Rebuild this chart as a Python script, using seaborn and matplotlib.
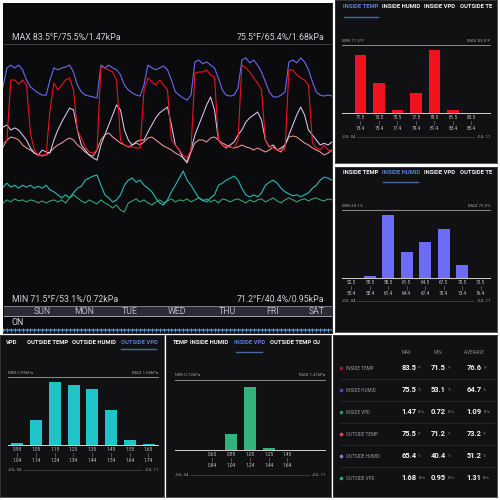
#!/usr/bin/env python3
"""
Grow-tent sensor dashboard: weekly trace, histograms and summary table
"""
import matplotlib
matplotlib.use("Agg")
import seaborn as sns
import matplotlib.pyplot as plt

# ---------------------------------------------------------------- data
hours = list(range(0, 169, 2))  # Jul 04 00:00 -> Jul 11 00:00, 2 h steps

inside_temp = [
    73.7, 74.0, 80.0, 80.0, 79.6, 80.0, 79.5, 74.7, 73.0, 72.5, 72.5, 72.5,
    77.0, 79.7, 79.0, 79.5, 80.0, 80.2, 79.0, 75.0, 74.2, 73.3, 72.8, 72.7,
    73.0, 81.3, 81.2, 81.0, 80.8, 80.0, 74.0, 73.5, 73.3, 73.3, 73.2, 73.2,
    79.0, 80.2, 79.8, 79.5, 80.0, 79.5, 79.0, 74.0, 73.5, 73.0, 72.5, 72.2,
    73.0, 80.7, 80.8, 80.8, 81.0, 80.5, 80.3, 74.0, 73.5, 73.3, 73.3, 73.2,
    74.0, 81.5, 81.2, 80.8, 80.2, 79.7, 79.0, 74.0, 73.4, 73.2, 73.0, 73.0,
    73.0, 81.0, 81.0, 80.5, 80.2, 80.0, 79.5, 73.7, 73.2, 73.0, 73.5, 73.0,
    72.8]

inside_humid = [
    62.7, 68.7, 69.6, 68.7, 69.6, 68.1, 64.9, 62.7, 61.7, 60.8, 60.1, 60.1,
    64.9, 68.7, 68.1, 68.7, 69.0, 69.6, 67.4, 63.3, 61.1, 60.1, 59.8, 59.5,
    59.2, 69.6, 68.7, 69.6, 68.7, 68.1, 66.5, 63.3, 61.7, 60.8, 60.1, 59.8,
    63.3, 69.6, 68.7, 68.1, 68.7, 69.3, 68.1, 64.9, 61.1, 60.1, 59.2, 58.5,
    60.1, 70.6, 71.2, 70.0, 70.6, 69.6, 68.7, 65.5, 61.7, 60.1, 59.8, 60.1,
    62.4, 71.2, 71.9, 70.3, 71.2, 69.6, 67.4, 64.3, 61.1, 59.5, 59.5, 60.1,
    61.1, 70.6, 71.2, 70.3, 71.9, 70.6, 68.1, 64.3, 61.1, 60.1, 59.8, 60.1,
    59.8]

inside_vpd = [
    1.03, 1.09, 1.05, 1.11, 1.07, 1.09, 1.05, 1.09, 1.07, 1.03, 1.07, 1.03,
    1.07, 1.09, 1.05, 1.09, 1.03, 1.13, 1.19, 1.13, 1.07, 1.03, 1.09, 1.05,
    1.01, 1.09, 1.03, 0.99, 0.93, 0.99, 0.89, 0.85, 1.03, 1.07, 1.11, 1.05,
    1.09, 1.03, 0.99, 1.05, 1.09, 1.03, 1.07, 1.11, 1.05, 1.09, 1.07, 1.11,
    1.05, 1.09, 1.13, 1.07, 1.11, 1.05, 1.09, 1.03, 1.11, 1.09, 1.05, 1.09,
    1.11, 1.07, 1.03, 1.09, 1.05, 1.09, 1.11, 1.05, 1.09, 1.13, 1.07, 1.03,
    1.09, 1.13, 1.09, 1.05, 1.09, 1.11, 1.07, 1.11, 1.13, 1.09, 1.07, 1.11,
    1.09]

outside_temp = [
    73.3, 74.0, 74.3, 74.2, 74.0, 73.5, 73.2, 73.0, 72.7, 72.5, 72.4, 72.5,
    72.8, 73.2, 73.5, 73.7, 74.0, 74.2, 74.0, 73.5, 73.2, 72.8, 72.5, 72.4,
    73.0, 74.0, 74.5, 74.7, 74.3, 74.0, 73.7, 73.5, 73.3, 73.5, 73.7, 73.5,
    73.8, 74.2, 74.3, 74.0, 73.7, 73.4, 73.2, 73.0, 72.7, 72.5, 72.2, 71.7,
    72.8, 73.7, 74.0, 74.0, 73.8, 74.2, 74.3, 74.0, 73.7, 73.5, 73.3, 73.2,
    73.3, 73.5, 73.3, 73.2, 73.0, 73.2, 73.0, 72.8, 73.0, 73.3, 73.0, 72.8,
    73.5, 74.3, 74.4, 74.3, 74.0, 73.7, 73.5, 73.2, 73.0, 72.8, 72.5, 72.7,
    73.0]

outside_humid = [
    54.0, 54.8, 52.9, 53.7, 52.9, 51.0, 49.1, 46.1, 44.2, 43.4, 45.3, 44.6,
    44.2, 49.1, 52.9, 55.9, 58.6, 61.2, 60.5, 52.9, 47.2, 45.3, 43.4, 42.3,
    41.5, 47.2, 51.0, 54.8, 58.6, 62.4, 60.5, 52.9, 49.1, 47.2, 48.4, 49.1,
    49.1, 52.1, 54.8, 57.5, 59.4, 60.5, 61.6, 54.8, 47.2, 45.3, 42.3, 40.8,
    45.3, 51.0, 54.8, 58.6, 62.4, 65.4, 60.5, 49.1, 47.2, 46.1, 47.2, 48.4,
    51.0, 52.9, 55.9, 57.5, 58.6, 59.7, 56.7, 49.1, 46.5, 47.2, 45.3, 46.1,
    47.2, 51.0, 54.8, 58.6, 61.6, 58.6, 52.9, 51.0, 49.1, 47.2, 47.9, 47.2,
    48.4]

outside_vpd = [
    1.34, 1.42, 1.34, 1.38, 1.32, 1.38, 1.34, 1.38, 1.32, 1.36, 1.32, 1.38,
    1.29, 1.25, 1.19, 1.13, 1.19, 1.13, 1.23, 1.32, 1.36, 1.48, 1.52, 1.56,
    1.58, 1.38, 1.19, 1.13, 1.05, 1.09, 1.19, 1.38, 1.48, 1.52, 1.44, 1.48,
    1.38, 1.32, 1.25, 1.13, 1.03, 0.99, 1.09, 1.25, 1.38, 1.52, 1.66, 1.48,
    1.38, 1.25, 1.13, 1.09, 1.05, 1.13, 1.19, 1.38, 1.42, 1.48, 1.52, 1.56,
    1.48, 1.32, 1.19, 1.15, 1.19, 1.15, 1.23, 1.38, 1.44, 1.48, 1.42, 1.32,
    1.25, 1.21, 1.17, 1.19, 1.15, 1.19, 1.23, 1.32, 1.38, 1.48, 1.54, 1.52,
    1.48]

day_names = ["SUN", "MON", "TUE", "WED", "THU", "FRI", "SAT"]

# histograms: share of samples per bin (%)
temp_bins_lo = ["71.5", "73.5", "75.5", "77.5", "79.5", "81.5", "83.5"]
temp_bins_hi = ["73.4", "75.4", "77.4", "79.4", "81.4", "83.4", "85.4"]
temp_share = [32.6, 16.8, 1.8, 11.5, 35.4, 1.8, 0.0]

humid_bins_lo = ["52.5", "55.5", "58.5", "61.5", "64.5", "67.5", "70.5", "73.5"]
humid_bins_hi = ["55.4", "58.4", "61.4", "64.4", "67.4", "70.4", "73.4", "76.4"]
humid_share = [0.0, 1.1, 33.2, 13.7, 19.0, 26.0, 6.9, 0.0]

ovpd_bins_lo = ["0.95", "1.05", "1.15", "1.25", "1.35", "1.45", "1.55", "1.65"]
ovpd_bins_hi = ["1.04", "1.14", "1.24", "1.34", "1.44", "1.54", "1.64", "1.74"]
ovpd_share = [0.7, 10.1, 25.6, 24.5, 22.6, 14.1, 1.9, 0.5]

ivpd_bins_lo = ["0.65", "0.85", "1.05", "1.25", "1.45"]
ivpd_bins_hi = ["0.84", "1.04", "1.24", "1.44", "1.64"]
ivpd_share = [0.0, 19.5, 78.4, 2.1, 0.0]

# summary table
stat_names = ["INSIDE TEMP", "INSIDE HUMID", "INSIDE VPD",
              "OUTSIDE TEMP", "OUTSIDE HUMID", "OUTSIDE VPD"]
stat_max = ["83.5", "75.5", "1.47", "75.5", "65.4", "1.68"]
stat_min = ["71.5", "53.1", "0.72", "71.2", "40.4", "0.95"]
stat_avg = ["76.6", "64.7", "1.09", "73.2", "51.2", "1.31"]
stat_unit = ["°F", "%", "kPa", "°F", "%", "kPa"]

# ---------------------------------------------------------------- style
plt.rcParams["font.family"] = ["Roboto", "DejaVu Sans"]

C_IN_TEMP = "#e8141f"
C_IN_HUMID = "#6a68ee"
C_IN_VPD = "#3aa878"
C_OUT_TEMP = "#eb9a98"
C_OUT_HUMID = "#dcc6ee"
C_OUT_VPD = "#20bdb6"
DOTS = ["#b0102a", "#4a48c8", "#2a9a60", "#e04562", "#8a78c8", "#2aa878"]
TAB_BLUE = "#5a7fd8"
PANEL = "#111113"

W = H = 500
fig = plt.figure(figsize=(5, 5), dpi=100, facecolor="white")


def frac(x0, y0, x1, y1):
    return [x0 / W, 1 - y1 / H, (x1 - x0) / W, (y1 - y0) / H]


def panel(x0, y0, x1, y1, face=PANEL, edge="#3a3a3a"):
    """Axes whose data coordinates are image pixels (y down)."""
    ax = fig.add_axes(frac(x0, y0, x1, y1))
    ax.set_xlim(x0, x1)
    ax.set_ylim(y1, y0)
    ax.set_facecolor(face)
    ax.set_xticks([])
    ax.set_yticks([])
    for s in ax.spines.values():
        s.set_color(edge)
        s.set_linewidth(0.6)
    return ax


def overlay(x0, y0, x1, y1):
    ax = fig.add_axes(frac(x0, y0, x1, y1))
    ax.set_axis_off()
    return ax


def fit_ylim(ax, v_hi, px_hi, v_lo, px_lo, top_px, bot_px):
    per_px = (v_hi - v_lo) / (px_lo - px_hi)
    ax.set_ylim(v_lo - (bot_px - px_lo) * per_px, v_hi + (px_hi - top_px) * per_px)


# ---------------------------------------------------------------- main trace
main = panel(3, 3, 332, 333, face="#0b0b0d", edge="#0b0b0d")
txt = "#cfcfd4"
main.text(12, 38, "MAX 83.5°F/75.5%/1.47kPa", fontsize=6.3, color=txt, va="center")
main.text(324, 38, "75.5°F/65.4%/1.68kPa", fontsize=6.3, color=txt, va="center", ha="right")
main.plot([3, 332], [44, 44], color="#4a4a50", lw=0.6)
main.text(12, 300, "MIN 71.5°F/53.1%/0.72kPa", fontsize=6.3, color=txt, va="center")
main.text(324, 300, "71.2°F/40.4%/0.95kPa", fontsize=6.3, color=txt, va="center", ha="right")
main.fill_between([3, 332], 306, 316, color="#2b2b35", lw=0)
main.plot([3, 332], [306, 306], color="#8a8a95", lw=0.6)
main.plot([3, 332], [316, 316], color="#b8b8c0", lw=0.6)
for name, cx in zip(day_names, [42, 84, 130, 177, 227, 273, 317]):
    main.text(cx, 311.3, name, fontsize=6.3, color="#b8b8c0", ha="center", va="center")
main.text(12, 322.5, "ON", fontsize=6.3, color="#dddddd", va="center")

box = (3, 44, 332, 306)
ax_t = overlay(*box)
sns.lineplot(x=hours, y=outside_temp, ax=ax_t, color=C_OUT_TEMP, lw=0.75)
ax_oh = overlay(*box)
sns.lineplot(x=hours, y=outside_humid, ax=ax_oh, color=C_OUT_HUMID, lw=0.75)
ax_ih = overlay(*box)
sns.lineplot(x=hours, y=inside_humid, ax=ax_ih, color=C_IN_HUMID, lw=0.8)
ax_it = overlay(*box)
sns.lineplot(x=hours, y=inside_temp, ax=ax_it, color=C_IN_TEMP, lw=0.8)
ax_v = overlay(*box)
sns.lineplot(x=hours, y=inside_vpd, ax=ax_v, color=C_IN_VPD, lw=0.75)
sns.lineplot(x=hours, y=outside_vpd, ax=ax_v, color=C_OUT_VPD, lw=0.8)
for a in (ax_t, ax_oh, ax_ih, ax_it, ax_v):
    a.set_xlim(0, 168)
# shared temperature scale, separate humidity scales, shared VPD scale
fit_ylim(ax_t, 79.5, 85, 73.0, 150, 44, 306)
fit_ylim(ax_it, 79.5, 85, 73.0, 150, 44, 306)
fit_ylim(ax_ih, 69.0, 67, 59.5, 97, 44, 306)
fit_ylim(ax_oh, 65.4, 97, 40.4, 163, 44, 306)
fit_ylim(ax_v, 1.68, 170, 0.95, 207, 44, 306)

strip = overlay(3, 327, 332, 333)
strip.set_xlim(0, 168)
strip.set_ylim(0, 1)
strip.axhline(0.5, color="#2a6bb0", lw=1.4)
strip.vlines(hours, 0.15, 0.85, color="#7fb6e8", lw=0.5)


# ---------------------------------------------------------------- histograms
def hist_panel(pbox, tab_y, tabs, active, uline, bbox, lo, hi, share, color,
               min_txt, max_txt, date_y):
    p = panel(*pbox)
    for i, (tx, label) in enumerate(tabs):
        p.text(tx, tab_y, label, fontsize=4.2, fontweight="bold", va="center",
               color=TAB_BLUE if i == active else "#f2f2f2", clip_on=True)
    p.plot([uline[0], uline[1]], [uline[2], uline[2]], color="#4a64a8", lw=1.0)
    bx0, by0, bx1, by1 = bbox
    p.text(bx0, by0 - 2.5, min_txt, fontsize=3.2, color="#a0a0a0", va="bottom")
    p.text(bx1, by0 - 2.5, max_txt, fontsize=3.2, color="#a0a0a0", va="bottom", ha="right")
    p.text(bx0, date_y, "JUL 04", fontsize=3.2, color="#a0a0a0", va="center")
    p.text(bx1, date_y, "JUL 11", fontsize=3.2, color="#a0a0a0", va="center", ha="right")
    p.plot([bx0 + 15, bx1 - 16], [date_y, date_y], color="#4a4a4a", lw=0.5)

    ax = fig.add_axes(frac(*bbox))
    sns.barplot(x=lo, y=share, color=color, saturation=1, width=0.63, ax=ax)
    n = len(share)
    pad = (8 - n) / 2
    ax.set_xlim(-0.5 - pad, n - 0.5 + pad)
    ax.set_ylim(0, max(share) * (by1 - by0) / 63)
    ax.set_xticks(range(n))
    ax.set_xticklabels([f"{a}\n|\n{b}" for a, b in zip(lo, hi)],
                       fontsize=3.4, color="#c0c0c0", linespacing=1.15)
    ax.tick_params(length=0, pad=1.5)
    ax.set_yticks([])
    ax.set_xlabel("")
    ax.set_ylabel("")
    ax.patch.set_alpha(0)
    ax.spines["left"].set_visible(False)
    ax.spines["right"].set_visible(False)
    ax.spines["top"].set_color("#8a8a8a")
    ax.spines["bottom"].set_color("#cfcfcf")
    ax.spines["top"].set_linewidth(0.7)
    ax.spines["bottom"].set_linewidth(0.7)


right_tabs = ["INSIDE TEMP", "INSIDE HUMID", "INSIDE VPD", "OUTSIDE TE"]
right_tab_x = [343, 382, 424, 460]

hist_panel((335, 0, 497, 163), 6, list(zip(right_tab_x, right_tabs)), 0,
           (344, 378, 16.5), (342, 45, 490, 113),
           temp_bins_lo, temp_bins_hi, temp_share, "#f0121c",
           "MIN 71.5°F", "MAX 83.5°F", 137)

hist_panel((335, 167, 497, 332), 172, list(zip(right_tab_x, right_tabs)), 1,
           (383, 418, 182), (342, 210, 490, 278),
           humid_bins_lo, humid_bins_hi, humid_share, "#6c6cf6",
           "MIN 53.1%", "MAX 75.5%", 301)

hist_panel((0, 335, 164, 497), 342,
           [(6, "VPD"), (27, "OUTSIDE TEMP"), (72, "OUTSIDE HUMID"), (121, "OUTSIDE VPD")], 3,
           (121, 156, 349), (8, 377, 158, 445),
           ovpd_bins_lo, ovpd_bins_hi, ovpd_share, "#1fc4c9",
           "MIN 0.95kPa", "MAX 1.68kPa", 470)

hist_panel((166, 335, 331, 497), 342,
           [(173, "TEMP"), (190, "INSIDE HUMID"), (234, "INSIDE VPD"),
            (270, "OUTSIDE TEMP"), (313, "OU")], 2,
           (236, 262, 352), (175, 380, 325, 450),
           ivpd_bins_lo, ivpd_bins_hi, ivpd_share, "#34b27c",
           "MIN 0.72kPa", "MAX 1.47kPa", 475)

# ---------------------------------------------------------------- summary table
tbl = panel(333, 335, 497, 497)
for label, cx in zip(["MAX", "MIN", "AVERAGE"], [407, 438, 474]):
    tbl.text(cx, 352, label, fontsize=3.3, color="#8a8a8a", ha="center", va="center")
for i, name in enumerate(stat_names):
    ry = 368 + 22 * i
    tbl.plot([341.5], [ry], "o", ms=1.6, color=DOTS[i])
    tbl.text(346, ry, name, fontsize=3.3, color="#9a9a9a", va="center")
    for vx, val in zip([401.5, 431, 466.5], [stat_max[i], stat_min[i], stat_avg[i]]):
        t = tbl.text(vx, ry, val, fontsize=5.4, fontweight="bold", color="#f4f4f4", va="center")
        tbl.annotate(stat_unit[i], xy=(1, 0.2), xycoords=t, xytext=(1.2, 0),
                     textcoords="offset points", fontsize=2.8, color="#8a8a8a", va="bottom")
    if i < len(stat_names) - 1:
        tbl.plot([340, 495], [ry + 11, ry + 11], color="#2a2a2e", lw=0.5)

fig.savefig("out.png", dpi=100, facecolor="white")
